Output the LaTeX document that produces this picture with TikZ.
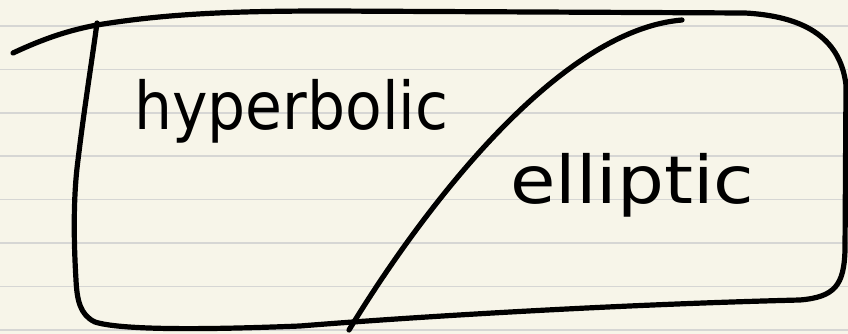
\documentclass[tikz,border=0pt]{standalone}
\usepackage{fontspec}
\newfontfamily\handfont{DejaVu Sans}
\definecolor{paper}{RGB}{247,245,233}
\definecolor{rulegrey}{RGB}{214,214,212}

\begin{document}
\begin{tikzpicture}[
  x=1pt, y=-1pt,
  pen/.style   = {draw=black, line width=5.2pt, line cap=round, line join=round},
  rule/.style  = {draw=rulegrey, line width=1.6pt},
  word/.style  = {inner sep=0pt, anchor=base west, text=black}
]

% --- Papier liniert -----------------------------------------------------------
\fill[paper] (0,0) rectangle (848,334);
\useasboundingbox (0,0) rectangle (848,334);
\foreach \k in {0,...,7}
  \draw[rule] (0,26+43.4*\k) -- (848,26+43.4*\k);

% --- Rahmen (ein Zug: links oben, rechts herum, unten, links hoch) -----------
\draw[pen] (13,53) .. controls (45,38) and (70,30) .. (97,25)
   .. controls (170,13) and (240,11) .. (330,11)
   -- (745,13)
   .. controls (800,16) and (840,35) .. (846,85)
   -- (845,250)
   .. controls (844,285) and (835,297) .. (800,300)
   .. controls (600,305) and (400,318) .. (300,326)
   .. controls (200,330) and (120,330) .. (95,322)
   .. controls (80,315) and (77,300) .. (76,280)
   .. controls (73,230) and (74,190) .. (78,160)
   .. controls (84,110) and (92,60) .. (97,23);

% --- Trennkurve ---------------------------------------------------------------
\draw[pen] (349,330) .. controls (425,205) and (560,30) .. (682,20);

% --- Beschriftung -------------------------------------------------------------
\node[word, font=\handfont\fontsize{60}{60}\selectfont, yscale=1.1] (hyp) at (134,130) {hyperbolic};
\node[word, font=\handfont\fontsize{66}{66}\selectfont, xscale=1.12] (ell) at (510,203) {elliptic};

\end{tikzpicture}
\end{document}
